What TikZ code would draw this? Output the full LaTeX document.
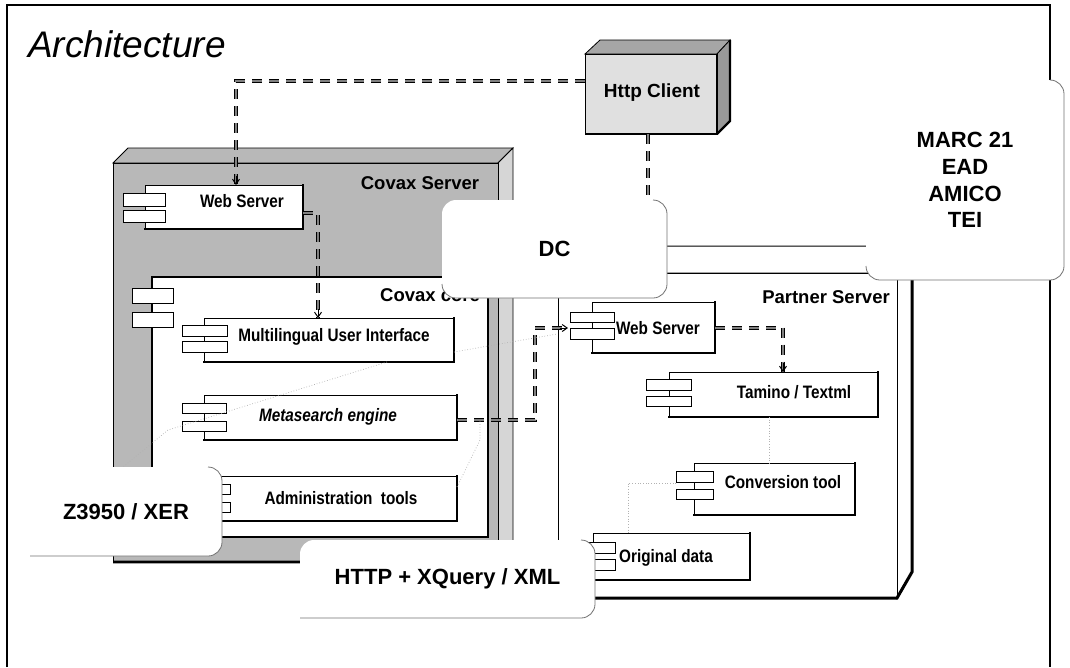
\documentclass[tikz,border=0pt]{standalone}
\usepackage{fontspec}
\setmainfont{Liberation Sans}
\newfontfamily\narrowfont[FakeStretch=0.85]{Liberation Sans}
\usetikzlibrary{arrows.meta,calc}
\newcommand\mycomp[5]{%
  \node[cbox, minimum width={(#4-#2)*1pt}, minimum height={(#5-#3)*1pt}] (#1) at ({(#2+#4)/2},{(#3+#5)/2}) {};
  \draw[shadeline] (#1.north east) -- (#1.south east) -- (#1.south west);
}
\newcommand\myicon[4]{\draw[icon] (#1,#2) rectangle (#3,#4);}
\begin{document}
\begin{tikzpicture}[x=1pt,y=-1pt,
  frame/.style={line width=1.4pt},
  srvfront/.style={draw=black, fill=black!28, line width=0.8pt, inner sep=0pt, outer sep=0pt},
  srvtop/.style={draw=black, fill=black!28, line width=0.8pt},
  srvside/.style={draw=black, fill=black!16, line width=0.8pt},
  cbox/.style={draw=black, fill=white, line width=1pt, inner sep=0pt, outer sep=0pt, rectangle},
  shadeline/.style={line width=2.4pt, line cap=rect},
  icon/.style={draw=black, fill=white, line width=1pt},
  clab/.style={font=\narrowfont\bfseries\fontsize{18}{20}\selectfont, inner sep=0pt},
  slab/.style={font=\bfseries\fontsize{18.5}{20}\selectfont, inner sep=0pt},
  dep/.style={draw=black, line width=1pt, double=black!50, double distance=2pt, dash pattern=on 10pt off 7pt},
  tipl/.style={line width=1pt, -{Straight Barb[length=5pt,width=7pt]}},
  faint/.style={draw=black!30, line width=0.7pt, dotted},
  callout/.style={fill=white, draw=none, rounded corners=14pt, inner sep=0pt, outer sep=0pt, align=center,
     font=\bfseries\fontsize{22}{26.7}\selectfont},
  cbord/.style={draw=black!55, line width=0.8pt, rounded corners=14pt}
]
\useasboundingbox (0,0) rectangle (1070,667);
\fill[white] (0,0) rectangle (1070,667);

% frame and title
\draw[frame] (7,667) -- (7,5) -- (1050,5) -- (1050,667);
\node[font=\itshape\fontsize{37}{42}\selectfont, anchor=base west, inner sep=0pt] (title) at (28,57) {Architecture};

% ---------------- Covax Server ----------------
\draw[srvtop] (113,163) -- (128,148) -- (513,148) -- (498,163) -- cycle;
\draw[srvside] (498,163) -- (513,148) -- (513,547) -- (498,562) -- cycle;
\node[srvfront, minimum width=385pt, minimum height=399pt] (covax) at (305.5,362.5) {};
\draw[line width=2.6pt] (covax.south west) -- (covax.south east) -- (513,547);
\node[slab] (covaxlab) at (420,183) {Covax Server};

\mycomp{ws1}{145}{185}{303}{229}
\myicon{123}{193}{165}{206}
\myicon{123}{210}{165}{222}
\node[clab] (ws1lab) at (242,201) {Web Server};

% Covax core
\node[cbox, line width=1.6pt, minimum width=336pt, minimum height=260pt] (core) at (320,407) {};
\myicon{132}{288}{173}{303}
\myicon{132}{312}{173}{327}
\node[slab, anchor=west] (corelab) at (380,295) {Covax core};

\mycomp{mui}{204}{318}{454}{362}
\myicon{182}{325}{227}{336}
\myicon{182}{341}{227}{352}
\node[clab] (muilab) at (334,337) {Multilingual User Interface};

\mycomp{meta}{204}{395}{457}{440}
\myicon{182}{403}{226}{413}
\myicon{182}{421}{226}{431}
\node[clab, font=\narrowfont\bfseries\itshape\fontsize{18}{20}\selectfont] (metalab) at (328,417) {Metasearch engine};

\mycomp{adm}{208}{476}{457}{521}
\myicon{186}{484}{230}{494}
\myicon{186}{502}{230}{512}
\node[clab] (admlab) at (341,498) {Administration\ \ tools};

% ---------------- Http Client ----------------
\draw[srvtop, fill=black!35] (585,54) -- (600,40) -- (730,40) -- (717,54) -- cycle;
\draw[srvside, fill=black!40] (717,54) -- (730,40) -- (730,121) -- (717,134) -- cycle;
\node[srvfront, fill=black!12, minimum width=132pt, minimum height=80pt] (hc) at (651,94) {};
\draw[line width=2.2pt] (hc.north east) -- (hc.south east) -- (hc.south west);
\draw[line width=2.2pt] (hc.south east) -- (730,121) -- (730,40);
\node[slab, font=\bfseries\fontsize{19}{20}\selectfont] (hclab) at (652,93) {Http Client};

% ---------------- Partner Server ----------------
\draw[draw=black, fill=white, line width=1pt] (558,273) -- (573,246) -- (912,246) -- (897,273) -- cycle;
\draw[draw=black, fill=white, line width=1pt] (897,273) -- (912,246) -- (912,572) -- (897,598) -- cycle;
\node[cbox, minimum width=339pt, minimum height=325pt] (partner) at (727.5,435.5) {};
\draw[line width=3pt] (912,246) -- (912,572) -- (897,598) -- (partner.south west);
\node[slab] (partnerlab) at (826,297) {Partner Server};

\mycomp{pws}{592}{302}{715}{353}
\myicon{570}{312}{614}{322}
\myicon{570}{328}{614}{339}
\node[clab] (pwslab) at (658,328) {Web Server};

\mycomp{tam}{669}{372}{878}{417}
\myicon{646}{379}{691}{390}
\myicon{646}{396}{691}{406}
\node[clab] (tamlab) at (794,392) {Tamino / Textml};

\mycomp{conv}{694}{463}{855}{515}
\myicon{676}{471}{713}{482}
\myicon{676}{489}{713}{499}
\node[clab] (convlab) at (783,482) {Conversion tool};

\mycomp{orig}{593}{533}{750}{580}
\myicon{570}{542}{615}{553}
\myicon{570}{559}{615}{570}
\node[clab] (origlab) at (666,558) {Original data};

% ---------------- dependencies ----------------
\draw[dep] ([yshift=13pt]hc.west) -| ([xshift=12pt]ws1.north);
\draw[tipl] ([xshift=12pt,yshift=9pt]ws1.north) -- ([xshift=12pt]ws1.north);

\draw[dep] ([yshift=-6pt]ws1.east) -| ([xshift=-11pt]mui.north);
\draw[tipl] ([xshift=-11pt,yshift=9pt]mui.north) -- ([xshift=-11pt]mui.north);

\draw[dep] ([xshift=-3pt]hc.south) -- ([xshift=-3pt]hc.south |- pws.north);

\coordinate (d1) at (535,420);
\coordinate (d2) at (535,328);
\coordinate (d3) at (568,328);
\draw[dep] (meta.east |- d1) -- (d1) -- (d2) -- (d3);
\draw[tipl] (560,328) -- (d3);

\draw[dep] (pws.east) -| ([xshift=9.5pt]tam.north);
\draw[tipl] ([xshift=9.5pt,yshift=9pt]tam.north) -- ([xshift=9.5pt]tam.north);

% faint links
\draw[faint] ([xshift=-4pt]tam.south) -- ([xshift=-4pt]tam.south |- conv.north);
\draw[faint] ([xshift=-18pt,yshift=6pt]conv.west) -| ([xshift=-43.5pt]orig.north);
\coordinate (h2) at (557,334);
\draw[faint] ([yshift=-12pt]mui.east) -- (h2);
\coordinate (j1) at (480,440);
\coordinate (j2) at (480,420);
\draw[faint] ([yshift=11.5pt]adm.east) -- (j1) -- (j2);

% ---------------- callouts ----------------
\node[callout, minimum width=225pt, minimum height=98pt] (dc) at (554.5,249) {DC};
\draw[cbord] ([yshift=14pt]dc.south west) -- (dc.south west) -- (dc.south east) -- (dc.north east) -- ([xshift=-14pt]dc.north east);

\node[callout, minimum width=198pt, minimum height=200pt] (marc) at (965,180) {MARC 21\\EAD\\AMICO\\TEI};
\draw[cbord] ([yshift=14pt]marc.south west) -- (marc.south west) -- (marc.south east) -- (marc.north east) -- ([xshift=-14pt]marc.north east);

\node[callout, minimum width=192pt, minimum height=89pt] (z) at (126,511.5) {Z3950 / XER};
\draw[cbord] (z.south west) -- (z.south east) -- (z.north east) -- ([xshift=-14pt]z.north east);

\node[callout, minimum width=295pt, minimum height=78pt] (http) at (447.5,579) {HTTP + XQuery / XML};
\draw[cbord] (http.south west) -- (http.south east) -- (http.north east) -- ([xshift=-14pt]http.north east);

\coordinate (ip) at (168,430);
\draw[faint] ([xshift=58pt]mui.south) -- (ip) -- ([xshift=-3pt]z.north);
\end{tikzpicture}
\end{document}
